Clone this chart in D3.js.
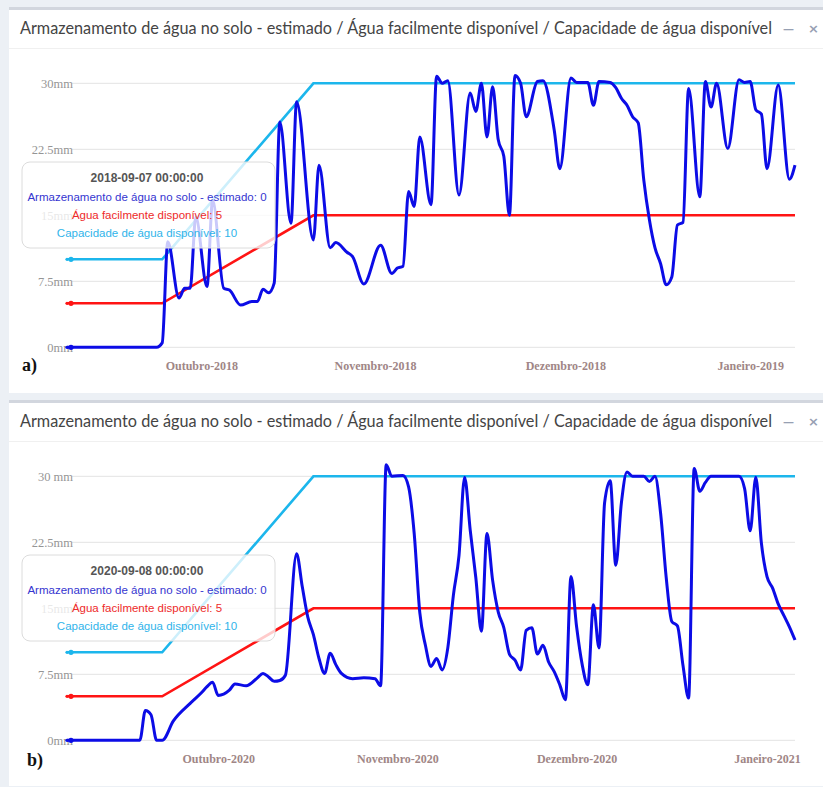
<!DOCTYPE html>
<html><head><meta charset="utf-8">
<script src="https://cdn.jsdelivr.net/npm/d3@7/dist/d3.min.js"></script>
<style>
html,body{margin:0;padding:0;background:#ecf0f5;}
svg{display:block;}
</style></head>
<body>
<svg id="chart" width="823" height="787"></svg>
<script>
const titleText = "Armazenamento de água no solo - estimado / Água facilmente disponível / Capacidade de água disponível";
const seriesNames = ["Armazenamento de água no solo - estimado", "Água facilmente disponível", "Capacidade de água disponível"];
const yTicks = [0, 7.5, 15, 22.5, 30];

// Panel a (start 2018-09-07), x = day index
const tooltipDateA = "2018-09-07 00:00:00";
const daysA = [0,16,17,18,20,21,22,23,25,26,28,29,31,33,34,35,36,37,38,40,41,44,45,47,48,50,51,53,56,58,59,60,61,62,63,65,66,67,68,70,72,73,74,75,76,77,78,79,80,81,82,84,85,87,88,90,91,93,94,95,97,98,99,100,101,102,103,104,105,106,107,108,109,110,111,113,114,115,116,118,120,121,122,123,124,125,127,129,130];
const storageA = [0,0,0.5,12,5.6,6.7,6.7,14.8,6.9,16.7,6.7,6.5,4.8,5.2,5.2,6.6,6.2,7.3,25.6,14.1,27.9,12.2,20.7,11.3,11.9,10.8,10.3,7.2,11.6,8.4,9.0,9.2,17.7,16.0,23.9,16.2,30.8,30.0,30.3,17.3,28.9,26.8,30.0,23.9,29.6,23.6,21.7,15.0,30.9,30.0,26.2,30.2,30.3,24.7,20.3,30.6,30.1,30.1,27.5,30.2,30.1,29.5,28.3,27.5,26.2,25.5,19.0,14.5,11.3,9.5,7.1,8.0,13.9,14.2,29.4,17.1,30.2,27.3,30.0,22.6,30.4,30.1,30.2,27.0,26.5,20.3,29.8,19.1,20.7];
const tickDaysA = [24, 55, 89, 122];
const tickLabelsA = ["Outubro-2018", "Novembro-2018", "Dezembro-2018", "Janeiro-2019"];

// Panel b (start 2020-09-08)
const tooltipDateB = "2020-09-08 00:00:00";
const daysB = [0,13,14,15,16,17,19,22,24,25,26,27,29,30,32,34,35,36,37,38,39,41,42,43,44,45,46,47,48,49,51,53,55,56,57,58,60,61,62,63,64,65,66,67,68,69,70,71,72,73,74,75,76,77,78,79,80,81,82,83,84,85,86,87,88,89,90,91,92,93,94,95,96,97,98,99,100,101,103,104,105,106,107,108,109,110,111,112,113,114,115,120,121,122,123,124,125,126,127,128,129,130];
const storageB = [0,0,3.4,2.9,0,0,2.2,4.2,5.4,6.1,6.6,5.1,5.7,6.4,6.2,7.1,7.6,7.2,6.7,6.8,7.4,21.2,17.5,14.0,12.0,9.3,7.6,9.9,8.6,7.6,7.0,7.1,7.0,6.2,31.3,30.0,30.1,28.8,23.5,14.5,10.8,8.4,9.3,8.0,10.5,16.5,21.0,29.9,23.9,18.5,12.4,23.5,18.2,14.6,12.8,9.8,9.1,8.0,12.5,12.8,9.8,10.8,8.9,7.8,6.3,4.6,18.6,12.9,8.6,6.3,15.4,10.5,27.0,29.5,19.9,27.0,30.5,30.0,30.0,29.4,30.0,25.8,18.5,13.5,13.0,8.5,4.8,30.9,28.3,29.3,30.0,30.0,28.6,23.8,29.9,22.4,18.6,17.3,15.5,14.2,12.9,11.4];
const tickDaysB = [27, 59, 91, 125];
const tickLabelsB = ["Outubro-2020", "Novembro-2020", "Dezembro-2020", "Janeiro-2021"];

// Threshold lines (same for both periods)
const rampDays = [0, 17, 44, 130];
const facilValues = [5, 5, 15, 15];
const capacValues = [10, 10, 30, 30];

const C_BLUE = "#0c0ce6", C_RED = "#ff1414", C_CYAN = "#1cb6ec";

const svg = d3.select("#chart");

function panel(off, tag, days, storage, tickDays, tickLabels, tipDate, topLabel) {
  const g = svg.append("g").attr("transform", `translate(0,${off})`);
  // card
  g.append("rect").attr("x", 9).attr("y", 7).attr("width", 830).attr("height", 386).attr("fill", "#fff");
  g.append("rect").attr("x", 9).attr("y", 7).attr("width", 830).attr("height", 3).attr("fill", "#d2d6de");
  g.append("line").attr("x1", 9).attr("x2", 823).attr("y1", 48.5).attr("y2", 48.5).attr("stroke", "#f0f0f0");
  g.append("text").attr("x", 20).attr("y", 34).attr("font-family", "Lato, 'Noto Sans', sans-serif")
    .attr("font-size", 16.5).attr("fill", "#444").attr("textLength", 752).attr("lengthAdjust", "spacingAndGlyphs").text(titleText);
  g.append("text").attr("x", 783).attr("y", 33).attr("font-family", "'DejaVu Sans', sans-serif").attr("font-size", 11).attr("font-weight", "bold").attr("fill", "#97a0b3").text("—");
  g.append("text").attr("x", 808).attr("y", 33).attr("font-family", "'DejaVu Sans', sans-serif").attr("font-size", 13).attr("font-weight", "bold").attr("fill", "#97a0b3").text("×");

  const x = d3.scaleLinear().domain([0, 130]).range([67, 795]);
  const y = d3.scaleLinear().domain([0, 30]).range([347.3, 83.3]);

  // grid
  g.append("g").selectAll("line").data(yTicks).join("line")
    .attr("x1", 72).attr("x2", 795).attr("y1", d => y(d)).attr("y2", d => y(d))
    .attr("stroke", "#e3e3e3").attr("stroke-width", 1);

  // y axis labels
  const ya = g.append("g").attr("transform", "translate(74,0)")
    .call(d3.axisLeft(y).tickValues(yTicks).tickSize(0).tickPadding(1)
      .tickFormat(d => (d === 30 && topLabel) ? topLabel : d + "mm"));
  ya.select(".domain").remove();
  ya.selectAll("text").attr("font-family", "'Liberation Serif', serif").attr("font-size", 12.5).attr("fill", "#959595");

  // x axis labels
  const xa = g.append("g").attr("transform", `translate(0,${y(0)})`)
    .call(d3.axisBottom(x).tickValues(tickDays).tickSize(0).tickPadding(14)
      .tickFormat((d, i) => tickLabels[i]));
  xa.select(".domain").remove();
  xa.selectAll("text").attr("font-family", "'Liberation Serif', serif").attr("font-size", 12)
    .attr("font-weight", "bold").attr("fill", "#a08686");

  // threshold lines
  const lin = d3.line().x((d, i) => x(rampDays[i])).y(d => y(d));
  g.append("path").attr("d", lin(capacValues)).attr("fill", "none").attr("stroke", C_CYAN).attr("stroke-width", 2.6);
  g.append("path").attr("d", lin(facilValues)).attr("fill", "none").attr("stroke", C_RED).attr("stroke-width", 2.6);

  // storage
  const pts = days.map((d, i) => [d, storage[i]]);
  const sl = d3.line().x(d => x(d[0])).y(d => y(d[1])).curve(d3.curveMonotoneX);
  g.append("path").attr("d", sl(pts)).attr("fill", "none").attr("stroke", C_BLUE).attr("stroke-width", 3).attr("stroke-linejoin", "round");

  // start markers
  [[capacValues[0], C_CYAN], [facilValues[0], C_RED], [storage[0], C_BLUE]].forEach(([v, c]) => {
    g.append("circle").attr("cx", x(0)).attr("cy", y(v)).attr("r", 1.6).attr("fill", c);
    g.append("circle").attr("cx", x(0) + 4).attr("cy", y(v)).attr("r", 2.6).attr("fill", c);
  });

  // tooltip
  g.append("rect").attr("x", 22).attr("y", 162).attr("width", 253).attr("height", 86).attr("rx", 8)
    .attr("fill", "rgba(255,255,255,0.78)").attr("stroke", "#dcdcdc").attr("stroke-width", 1);
  const tf = "'Liberation Sans', Arial, sans-serif";
  g.append("text").attr("x", 147).attr("y", 182).attr("text-anchor", "middle").attr("font-family", tf)
    .attr("font-size", 12).attr("font-weight", "bold").attr("fill", "#555").text(tipDate);
  const tips = [[seriesNames[0] + ": " + storage[0], "#3535d0"], [seriesNames[1] + ": " + facilValues[0], "#ee2a2a"], [seriesNames[2] + ": " + capacValues[0], "#30b4ea"]];
  tips.forEach(([t, c], i) => {
    g.append("text").attr("x", 147).attr("y", 201 + i * 18).attr("text-anchor", "middle").attr("font-family", tf)
      .attr("font-size", 11.5).attr("fill", c).text(t);
  });

  g.append("text").attr("x", tag === "a)" ? 22 : 27).attr("y", tag === "a)" ? 371 : 373).attr("font-family", "'Liberation Serif', serif")
    .attr("font-size", 18).attr("font-weight", "bold").attr("fill", "#111").text(tag);
}

panel(0, "a)", daysA, storageA, tickDaysA, tickLabelsA, tooltipDateA, null);
panel(393, "b)", daysB, storageB, tickDaysB, tickLabelsB, tooltipDateB, "30 mm");
</script>
</body></html>
